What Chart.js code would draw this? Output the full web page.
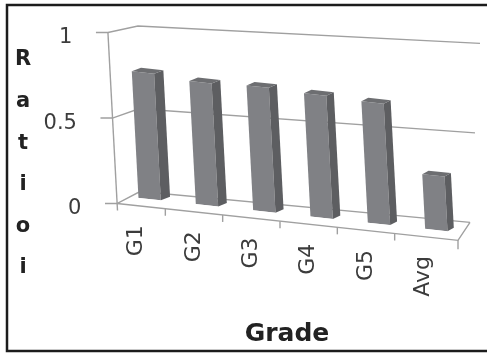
<!DOCTYPE html>
<html>
<head>
<meta charset="utf-8">
<script src="https://cdn.jsdelivr.net/npm/chart.js@4"></script>
<style>
  html, body { margin: 0; padding: 0; background: #fff; }
  canvas { display: block; }
</style>
</head>
<body>
<canvas id="ratioChart" width="487" height="356"></canvas>
<script>
const grades = ["G1", "G2", "G3", "G4", "G5", "Avg"];
const ratios = [0.74, 0.72, 0.73, 0.72, 0.71, 0.32];
const yTicks = [0, 0.5, 1];
const yTitle = "Ratioi";
const xTitle = "Grade";

// fake 3D: shear of the front plane, offset of the bars plane
const K = { kx: 0.053, ky: 0.108, bdx: 9, bdy: -7 };

function front(ca, x, y) {
    return [x - K.kx * (ca.bottom - y), y + K.ky * (x - ca.left)];
}
function lerp(a, b, t) {
    return [a[0] + (b[0] - a[0]) * t, a[1] + (b[1] - a[1]) * t];
}
function shear(ctx, ca) {
    ctx.transform(1, K.ky, K.kx, 1, -K.kx * ca.bottom, -K.ky * ca.left);
}

const box3d = {
    id: "box3d",
    beforeDraw(chart) {
        // move tick labels onto the sheared plane, keep the glyphs upright
        const ca = chart.chartArea;
        ["x", "y"].forEach(id => {
            chart.scales[id].getLabelItems(ca).forEach(item => {
                const t = item.options.translation;
                item.options.translation = front(ca, t[0], t[1]);
            });
        });
    },
    beforeDatasetsDraw(chart) {
        const ctx = chart.ctx, ca = chart.chartArea;
        const ys = chart.scales.y, xs = chart.scales.x;

        // walls and floor
        const L0 = ca.left + 5, R0 = ca.right + 2;
        const FBL = front(ca, L0, ca.bottom), FTL = front(ca, L0, ca.top), FBR = front(ca, R0, ca.bottom);
        const BBL = [FBL[0] + 23, FBL[1] - 12], BTL = [FTL[0] + 30, FTL[1] - 6.5];
        const BBR = [FBR[0] + 12, FBR[1] - 18], BTR = [BBR[0] + 10, BBR[1] - 179];

        ctx.save();
        ctx.strokeStyle = "#a0a0a0";
        ctx.lineWidth = 1.4;
        const seg = (pts) => {
            ctx.beginPath();
            ctx.moveTo(pts[0][0], pts[0][1]);
            for (let i = 1; i < pts.length; i++) ctx.lineTo(pts[i][0], pts[i][1]);
            ctx.stroke();
        };
        yTicks.forEach(v => {
            const py = ys.getPixelForValue(v);
            const t = (ca.bottom - py) / (ca.bottom - ca.top);
            const f = front(ca, L0, py);
            seg([[f[0] - 12, f[1]], f, lerp(BBL, BTL, t), lerp(BBR, BTR, t)]);
        });
        seg([FBL, FBR, BBR]);
        seg([FTL, [FBL[0] + 0.5, FBL[1] + 7]]);
        for (let i = 1; i < grades.length; i++) {
            const xb = (xs.getPixelForValue(i - 1) + xs.getPixelForValue(i)) / 2 - 4;
            const p = front(ca, xb, ca.bottom);
            seg([p, [p[0], p[1] + 7]]);
        }
        seg([FBR, [FBR[0], FBR[1] + 9]]);
        ctx.restore();

        ctx.save();
        ctx.translate(K.bdx, K.bdy);
        shear(ctx, ca);
    },
    afterDatasetsDraw(chart) {
        const ctx = chart.ctx, ca = chart.chartArea;
        ctx.restore();
        const P = (x, y) => {
            const p = front(ca, x, y);
            return [p[0] + K.bdx, p[1] + K.bdy];
        };
        const poly = (pts, color) => {
            ctx.beginPath();
            ctx.moveTo(pts[0][0], pts[0][1]);
            for (let i = 1; i < pts.length; i++) ctx.lineTo(pts[i][0], pts[i][1]);
            ctx.closePath();
            ctx.fillStyle = color;
            ctx.fill();
        };
        chart.getDatasetMeta(0).data.forEach(bar => {
            const l = bar.x - bar.width / 2, r = bar.x + bar.width / 2;
            const dx = 9.5 - 3.5 * (bar.x - ca.left) / (ca.right - ca.left), dy = -3.5;
            const rt = P(r, bar.y), rb = P(r, bar.base), lt = P(l, bar.y);
            poly([rt, rb, [rb[0] + dx, rb[1] + dy], [rt[0] + dx, rt[1] + dy]], "#5d5e61");
            poly([lt, rt, [rt[0] + dx, rt[1] + dy], [lt[0] + dx, lt[1] + dy]], "#6d6e71");
        });
    },
    afterDraw(chart) {
        const ctx = chart.ctx;
        ctx.save();
        ctx.strokeStyle = "#1c1c1c";
        ctx.lineWidth = 2.5;
        ctx.strokeRect(7, 5, 500, 346);

        ctx.fillStyle = "#222";
        ctx.textAlign = "center";
        ctx.textBaseline = "middle";
        ctx.font = "bold 21px 'DejaVu Sans'";
        yTitle.split("").forEach((ch, i) => ctx.fillText(ch, 23, 60 + i * 41.6));
        ctx.font = "bold 25px 'DejaVu Sans'";
        ctx.textBaseline = "alphabetic";
        ctx.fillText(xTitle, 287, 341);
        ctx.restore();
    }
};

new Chart(document.getElementById("ratioChart"), {
    type: "bar",
    data: {
        labels: grades,
        datasets: [{
            data: ratios,
            backgroundColor: "#808185",
            borderWidth: 0,
            barPercentage: 0.39,
            categoryPercentage: 1
        }]
    },
    options: {
        responsive: false,
        animation: false,
        events: [],
        layout: { padding: { left: 0, right: 31, top: 32, bottom: 3 } },
        plugins: { legend: { display: false }, tooltip: { enabled: false } },
        scales: {
            x: {
                grid: { display: false, drawTicks: false },
                border: { display: false },
                afterFit: s => {
                    s.height = 150;
                    s.paddingLeft = 0;
                    s.paddingRight = 0;
                },
                ticks: {
                    autoSkip: false,
                    minRotation: 90,
                    maxRotation: 90,
                    padding: 21,
                    labelOffset: -5,
                    color: "#3c3c3c",
                    font: { family: "DejaVu Sans", size: 22 }
                }
            },
            y: {
                min: 0,
                max: 1,
                grid: { display: false, drawTicks: false },
                border: { display: false },
                afterFit: s => {
                    s.width = 112;
                    s.paddingTop = 0;
                    s.paddingBottom = 0;
                },
                afterBuildTicks: s => { s.ticks = yTicks.map(v => ({ value: v })); },
                ticks: {
                    padding: 31,
                    labelOffset: 9,
                    color: "#3c3c3c",
                    font: { family: "DejaVu Sans", size: 21 },
                    callback: v => String(v)
                }
            }
        }
    },
    plugins: [box3d]
});
</script>
</body>
</html>
